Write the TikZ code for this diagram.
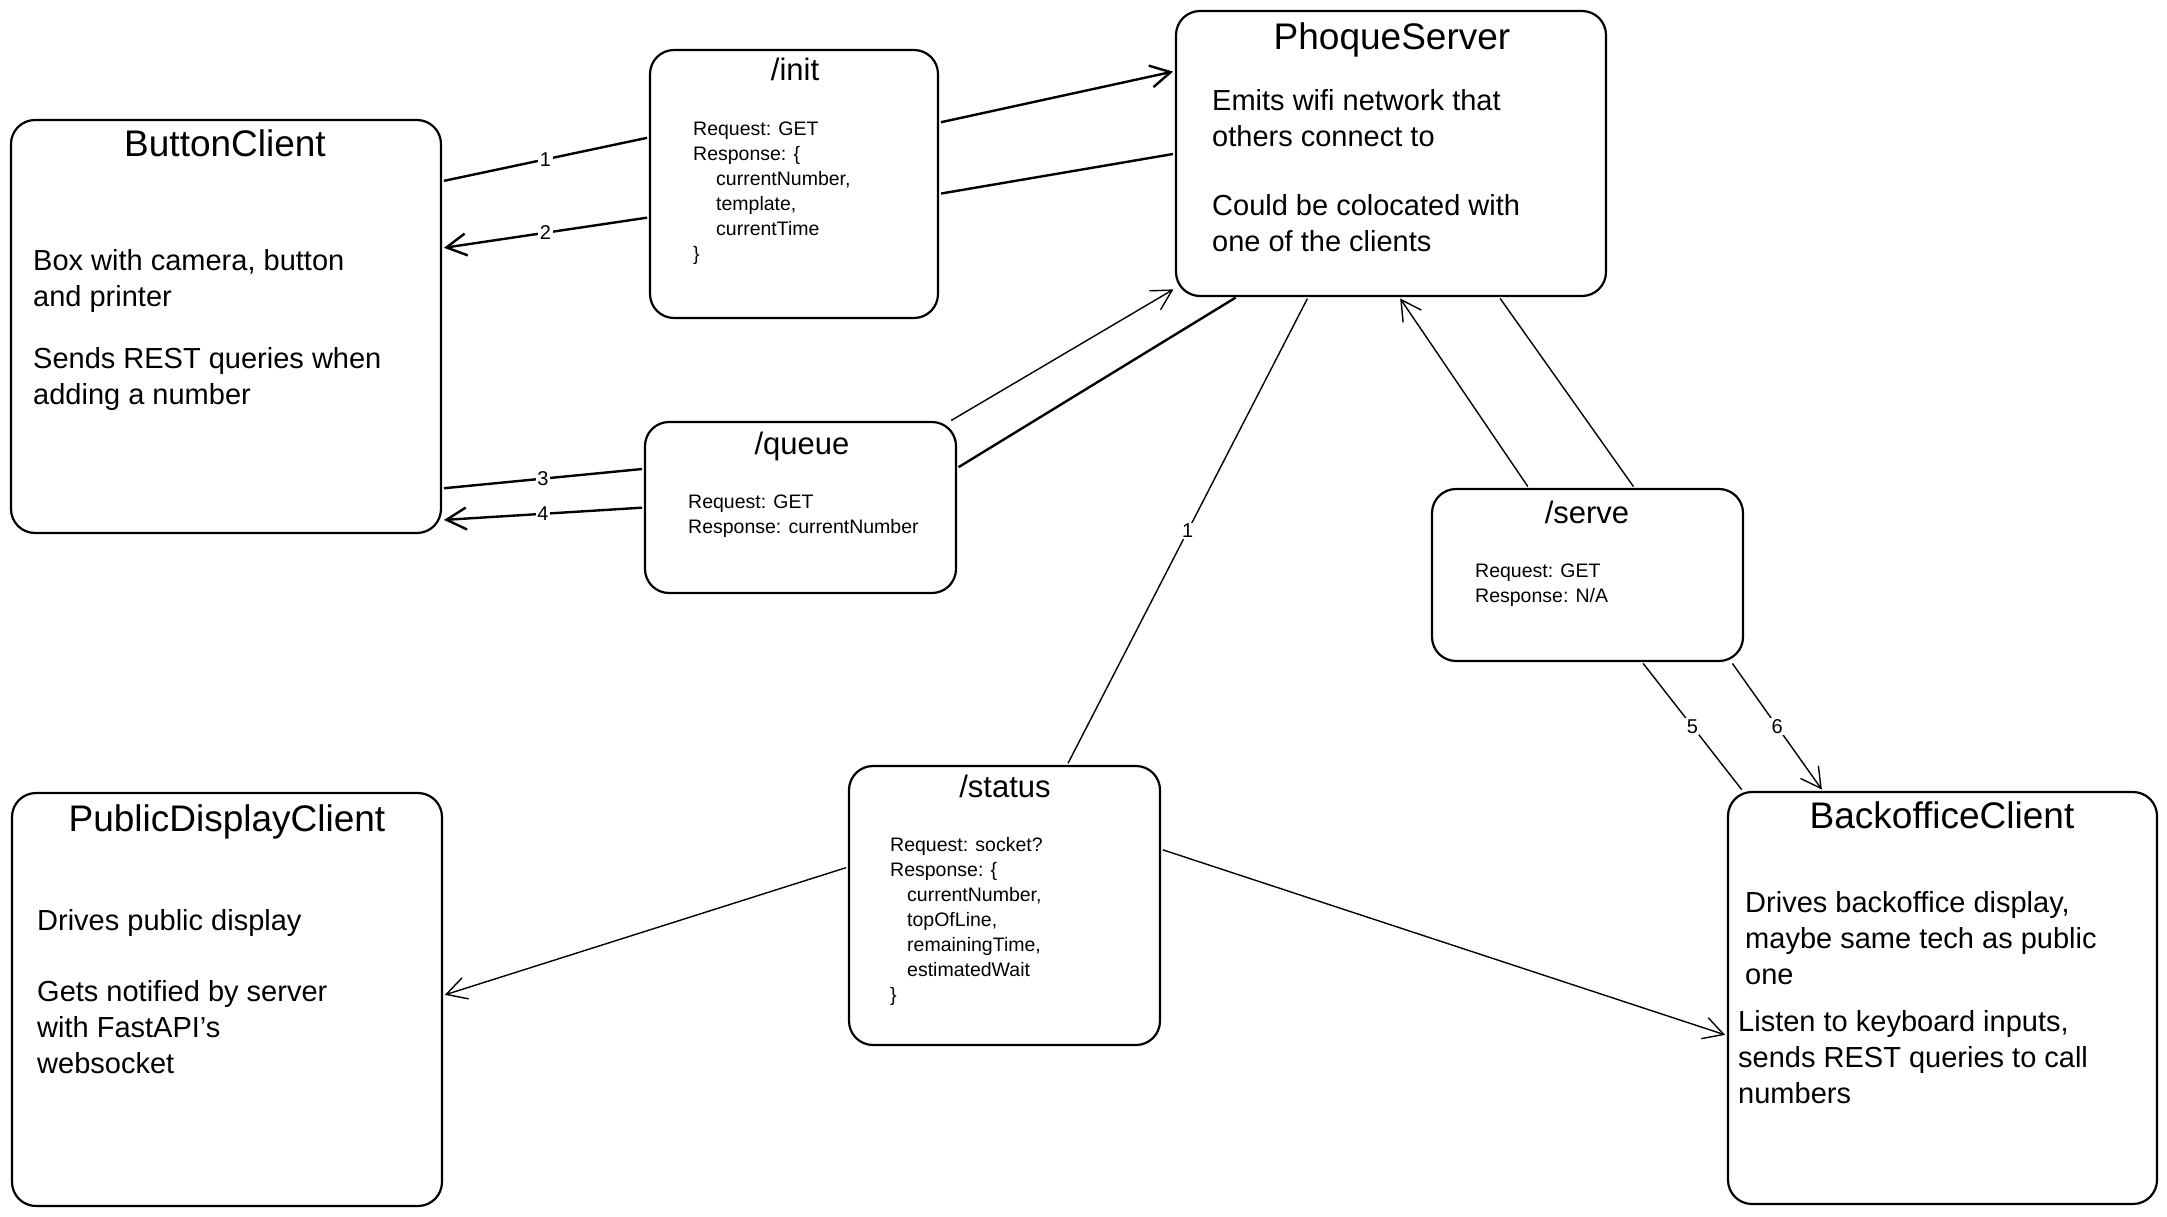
\documentclass[tikz,border=0pt]{standalone}
\usepackage{fontspec}
\setmainfont{Liberation Sans}
\usetikzlibrary{arrows.meta}

\begin{document}
\begin{tikzpicture}[x=1pt, y=-1pt,
  box/.style={draw, line width=2.2pt, rounded corners=24pt, inner sep=0pt, outer sep=0pt},
  boxtitle/.style={font=\fontsize{37}{44}\selectfont, text height=27pt, text depth=9pt, inner sep=0pt},
  routetitle/.style={font=\fontsize{31}{36}\selectfont, text height=23pt, text depth=7pt, inner sep=0pt},
  bodytext/.style={font=\fontsize{29}{36}\selectfont, align=left, anchor=north west, inner sep=0pt},
  smalltext/.style={font=\fontsize{19.5}{25}\selectfont, align=left, anchor=north west, inner sep=0pt},
  link/.style={line width=1.4pt, shorten <=3pt, shorten >=3pt},
  heavy/.style={link, line width=2.4pt},
  arrowed/.style={-{Straight Barb[length=20pt, width=22pt]}},
  numlabel/.style={font=\fontsize{20}{22}\selectfont, fill=white, inner sep=1.5pt}
]
\useasboundingbox (0,0) rectangle (2167,1217);

% === BOXES ===
% name / centre x / centre y / width / height
\foreach \name/\x/\y/\w/\h in {
  bc/226/326.5/430/413,
  init/794/184/288/268,
  server/1391/153.5/430/285,
  queue/800.5/507.5/311/171,
  serve/1587.5/575/311/172,
  status/1004.5/905.5/311/279,
  pub/227/999.5/430/413,
  back/1942.5/998/429/412
} {
  \node[box, minimum width=\w pt, minimum height=\h pt] (\name) at (\x,\y) {};
}

% === CLIENTS AND SERVER ===
\node[boxtitle] (bc-title) at (225,148) {ButtonClient};
\node[bodytext] (bc-text) at (33,249) {Box with camera, button\\and printer\\[26pt]Sends REST queries when\\adding a number};

\node[boxtitle] (server-title) at (1392,41) {PhoqueServer};
\node[bodytext] (server-text) at (1212,89) {Emits wifi network that\\others connect to\\[33pt]Could be colocated with\\one of the clients};

\node[boxtitle] (pub-title) at (227,822) {PublicDisplayClient};
\node[bodytext] (pub-text) at (37,909) {Drives public display\\[35pt]Gets notified by server\\with FastAPI's\\websocket};

\node[boxtitle] (back-title) at (1942,819) {BackofficeClient};
\node[bodytext] (back-text) at (1745,891) {Drives backoffice display,\\maybe same tech as public\\one};
\node[bodytext] (back-text2) at (1738,1010) {Listen to keyboard inputs,\\sends REST queries to call\\numbers};

% === ROUTES ===
\node[routetitle] (init-title) at (795,73) {/init};
\node[smalltext] (init-text) at (693,122) {Request: GET\\Response: \{\\\hspace*{23pt}currentNumber,\\\hspace*{23pt}template,\\\hspace*{23pt}currentTime\\\}};

\node[routetitle] (queue-title) at (802,446) {/queue};
\node[smalltext] (queue-text) at (688,495) {Request: GET\\Response: currentNumber};

\node[routetitle] (serve-title) at (1587,515) {/serve};
\node[smalltext] (serve-text) at (1475,564) {Request: GET\\Response: N/A};

\node[routetitle] (status-title) at (1005,789) {/status};
\node[smalltext] (status-text) at (890,837) {Request: socket?\\Response: \{\\\hspace*{17pt}currentNumber,\\\hspace*{17pt}topOfLine,\\\hspace*{17pt}remainingTime,\\\hspace*{17pt}estimatedWait\\\}};

% === CONNECTORS ===
\draw[heavy] (bc.34) -- node[numlabel] {1} (init.162);
\draw[heavy, arrowed] (init.23) -- (server.159);
\draw[heavy] (server.180) -- (init.-4);
\draw[heavy, arrowed] (init.193) -- node[numlabel] {2} (bc.20);

\draw[heavy] (bc.-37) -- node[numlabel] {3} (queue.166);
\draw[link, arrowed] (queue.30) -- (server.212);
\draw[heavy] (server.223) -- (queue.14);
\draw[heavy, arrowed] (queue.180) -- node[numlabel] {4} (bc.-42);

\draw[link] (server.240) -- node[numlabel] {1} (status.66);
\draw[link, arrowed] (status.166) -- (pub.1);
\draw[link, arrowed] (status.20) -- (back.190);

\draw[link, arrowed] (serve.124) -- (server.273);
\draw[link] (server.307) -- (serve.61);
\draw[link] (serve.302) -- node[numlabel] {5} (back.134);
\draw[link, arrowed] (serve.329) -- node[numlabel] {6} (back.120);

\end{tikzpicture}
\end{document}
